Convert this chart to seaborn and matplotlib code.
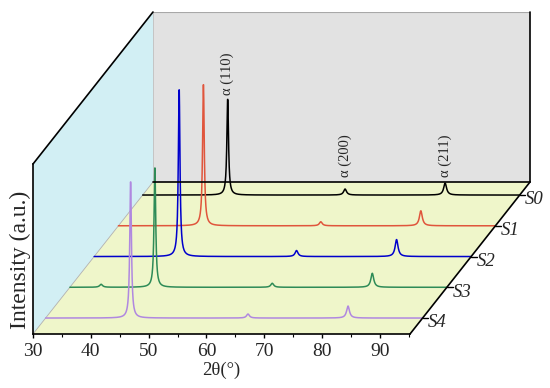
import numpy as np
import pandas as pd
import matplotlib.pyplot as plt
import seaborn as sns

sns.set_theme(style='ticks')
plt.rcParams['font.family'] = ['Liberation Serif', 'DejaVu Serif']

# data
samples = ['S0', 'S1', 'S2', 'S3', 'S4']
line_colors = ['#000000', '#e0553c', '#0000cc', '#2e8b57', '#b088e0']
peak_pos = [44.7, 65.0, 82.3]
peak_names = ['α (110)', 'α (200)', 'α (211)']
peak_hwhm = [0.17, 0.3, 0.3]
h110 = [97, 143, 169, 121, 138]
h200 = [6, 4, 6, 4, 4]
h211 = [12, 15, 17, 14, 12]
bump_pos = 35.4
bump_h = [0, 0, 0, 3, 0]
x_ticks = [30, 40, 50, 60, 70, 80, 90]

# oblique "3D" layout
XMIN, XMAX = 30, 95.2
DX, DY, WALL = 20.75, 152, 170
depth = [0.105 + 0.2023 * (4 - i) for i in range(len(samples))]


def pattern(x, i):
    """Lorentzian peaks built from the heights read for sample i."""
    y = np.zeros_like(x)
    for pos, hw, h in zip(peak_pos, peak_hwhm, [h110[i], h200[i], h211[i]]):
        y += h / (1 + ((x - pos) / hw) ** 2)
    y += bump_h[i] / (1 + ((x - bump_pos) / 0.3) ** 2)
    return y


grid = np.linspace(XMIN, XMAX, 1600)
frames = []
for i, s in enumerate(samples):
    d = depth[i]
    frames.append(pd.DataFrame({
        'sx': grid + d * DX,
        'sy': pattern(grid, i) + d * DY,
        'sample': s,
    }))
df = pd.concat(frames, ignore_index=True)

fig = plt.figure(figsize=(5.5, 3.88), dpi=100)
ax = fig.add_axes([33 / 550, 54 / 388, 497 / 550, 322 / 388])
ax.set_xlim(XMIN, XMAX + DX)
ax.set_ylim(0, DY + WALL)
ax.patch.set_visible(False)

# walls and floor
ax.fill([XMIN, XMIN, XMIN + DX, XMIN + DX], [0, WALL, DY + WALL, DY],
        color='#d2eff4', zorder=0, lw=0)
ax.fill([XMIN + DX, XMAX + DX, XMAX + DX, XMIN + DX], [DY, DY, DY + WALL, DY + WALL],
        color='#e2e2e2', zorder=0, lw=0)
ax.fill([XMIN, XMAX, XMAX + DX, XMIN + DX], [0, 0, DY, DY],
        color='#eff6ca', zorder=0, lw=0)
ax.plot([XMIN, XMIN + DX], [0, DY], color='#b0b0b0', lw=0.6, zorder=1)
ax.plot([XMIN + DX, XMIN + DX], [DY, DY + WALL], color='#c0c0c0', lw=0.6, zorder=1)
ax.plot([XMIN + DX, XMAX + DX], [DY + WALL, DY + WALL], color='#a8a8a8', lw=0.8, zorder=1)

sns.lineplot(data=df, x='sx', y='sy', hue='sample', hue_order=samples,
             palette=dict(zip(samples, line_colors)),
             estimator=None, sort=False, legend=False, lw=1.1, ax=ax, zorder=3)

# frame edges
k = dict(color='black', lw=1.2, zorder=4, clip_on=False)
ax.plot([XMIN, XMIN + DX], [WALL, DY + WALL], **k)
ax.plot([XMIN + DX, XMAX + DX], [DY, DY], **k)
ax.plot([XMAX + DX, XMAX + DX], [DY, DY + WALL], **k)
ax.plot([XMAX, XMAX + DX], [0, DY], **k)

# sample ticks and labels on the depth edge
for i, s in enumerate(samples):
    ex, ey = XMAX + depth[i] * DX, depth[i] * DY
    ax.plot([ex, ex + 1.0], [ey, ey], color='black', lw=1.0, clip_on=False, zorder=4)
    ax.annotate(s, (ex, ey), xytext=(4, -3.5), textcoords='offset points',
                ha='left', va='center', fontsize=13.5, style='italic')

# peak labels on the back pattern
for j, (pos, name) in enumerate(zip(peak_pos, peak_names)):
    top = [h110, h200, h211][j][0] + depth[0] * DY
    ax.text(pos + depth[0] * DX, max(top + 3, depth[0] * DY + 18), name,
            rotation=90, ha='center', va='bottom', fontsize=10.5)

# axes
for side in ['top', 'right']:
    ax.spines[side].set_visible(False)
ax.spines['bottom'].set_bounds(XMIN, XMAX)
ax.spines['left'].set_bounds(0, WALL)
for side in ['bottom', 'left']:
    ax.spines[side].set_linewidth(1.2)
    ax.spines[side].set_color('black')
ax.set_xticks(x_ticks)
ax.set_xticks([t + 5 for t in x_ticks], minor=True)
ax.set_yticks([])
ax.tick_params(axis='x', which='major', direction='out', length=3, width=1,
               labelsize=14, pad=3.5, color='black')
ax.tick_params(axis='x', which='minor', direction='out', length=2, width=0.8,
               color='black')
ax.set_xlabel('2θ(°)', fontsize=13.5)
ax.xaxis.set_label_coords((221 - 33) / 497, -28 / 322)
ax.set_ylabel('')
fig.text(20 / 550, 1 - 260 / 388, 'Intensity (a.u.)', rotation=90,
         ha='center', va='center', fontsize=17)

fig.savefig('out.png', dpi=100)
